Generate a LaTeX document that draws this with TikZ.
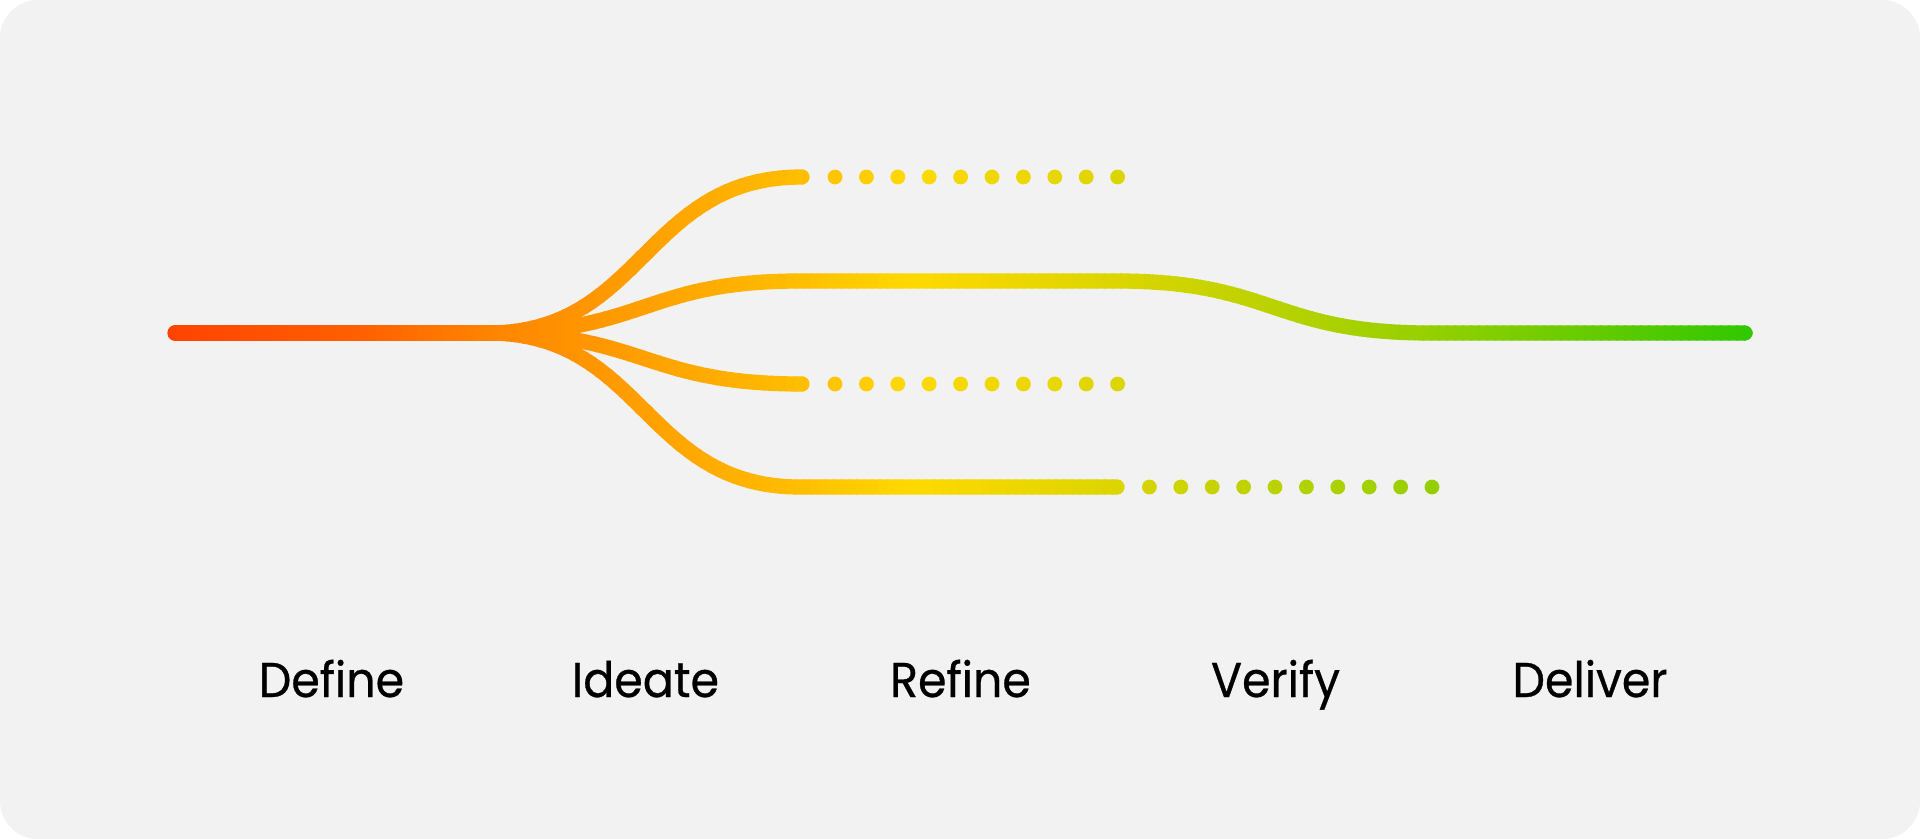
\documentclass[tikz,border=0pt]{standalone}
\usepackage{fontspec}
\setmainfont{Poppins}[FakeStretch=0.94, FakeBold=0.6]
\definecolor{bgc}{HTML}{F2F2F2}
\definecolor{g0}{HTML}{FF4200}
\definecolor{g1}{HTML}{FF6000}
\definecolor{g2}{HTML}{FF8400}
\definecolor{g3}{HTML}{FFAA00}
\definecolor{g4}{HTML}{FFC000}
\definecolor{g5}{HTML}{FFD900}
\definecolor{g6}{HTML}{DCD500}
\definecolor{g7}{HTML}{B8D200}
\definecolor{g8}{HTML}{95D000}
\definecolor{g9}{HTML}{62CB00}
\definecolor{g10}{HTML}{2EC800}
\tikzset{
  flowline/.style={line width=0.152cm, line cap=round, line join=round},
  stagelabel/.style={anchor=base, text=black, font=\fontsize{13.9}{16}\selectfont, inner sep=0pt},
}
\newcommand\gradstops{160/360/g0/g1, 360/490/g1/g2, 490/700/g2/g3, 700/810/g3/g4, 810/910/g4/g5, 910/1120/g5/g6, 1120/1280/g6/g7, 1280/1430/g7/g8, 1430/1600/g8/g9, 1600/1760/g9/g10}
\newcommand\flowdot[2]{% x, y
  \foreach \xa/\xb/\ca/\cb in \gradstops{
    \ifdim #1pt<\xa pt\else\ifdim #1pt<\xb pt
      \pgfmathsetmacro\p{100*((#1-\xa)/(\xb-\xa))}
      \colorlet{cur}{\cb!\p!\ca}
      \fill[cur] (#1,#2) circle (0.074cm);
    \fi\fi
  }%
}
\begin{document}
\begin{tikzpicture}[x=0.01cm, y=-0.01cm]
  \useasboundingbox (0,0) rectangle (1920,839);
  \fill[white] (0,0) rectangle (1920,839);
  \fill[bgc, rounded corners=0.38cm] (0,0) rectangle (1920,839);
  % named points of the flow
  \coordinate (m0) at (175,333);
  \coordinate (jn) at (488,333);
  \coordinate (c1) at (644,333);
  \coordinate (t1) at (644,177);
  \coordinate (te) at (802,177);
  \coordinate (u1) at (644,281);
  \coordinate (u2) at (800,281);
  \coordinate (u3) at (1117,281);
  \coordinate (u4) at (1273,281);
  \coordinate (r1) at (1273,333);
  \coordinate (r2) at (1430,333);
  \coordinate (re) at (1745,333);
  \coordinate (l1) at (644,384);
  \coordinate (le) at (802,384);
  \coordinate (b1) at (644,487);
  \coordinate (b2) at (800,487);
  \coordinate (be) at (1117,487);
  % gradient by vertical strips
  \foreach \xa/\xb/\ca/\cb in \gradstops{
    \pgfmathtruncatemacro\n{round((\xb-\xa)/8)}
    \foreach \k in {1,...,\n}{
      \pgfmathsetmacro\xl{\xa+(\k-1)*((\xb-\xa)/\n)}
      \pgfmathsetmacro\xr{\xa+\k*((\xb-\xa)/\n)+1.5}
      \pgfmathsetmacro\p{100*((\k-0.5)/\n)}
      \colorlet{cur}{\cb!\p!\ca}
      \begin{scope}[color=cur]
        \clip (\xl,150) rectangle (\xr,510);
        \ifdim\xl pt<500pt
          \draw[flowline] (m0) -- (c1);
        \fi
        \ifdim\xr pt>480pt
          \draw[flowline] (jn) .. controls (c1) and (u1) .. (u2) -- (u3) .. controls (u4) and (r1) .. (r2) -- (re);
          \ifdim\xl pt<815pt
            \draw[flowline] (jn) .. controls (c1) and (t1) .. (te);
            \draw[flowline] (jn) .. controls (c1) and (l1) .. (le);
          \fi
          \ifdim\xl pt<1125pt
            \draw[flowline] (jn) .. controls (c1) and (b1) .. (b2) -- (be);
          \fi
        \fi
      \end{scope}
    }
  }
  % dotted continuations
  \foreach \k in {0,...,9}{
    \pgfmathsetmacro\dxa{835+31.4*\k}
    \pgfmathsetmacro\dxb{1149.4+31.4*\k}
    \flowdot{\dxa}{177}
    \flowdot{\dxa}{384}
    \flowdot{\dxb}{487}
  }
  % stage labels
  \node[stagelabel] (define)  at (331.5,697) {Define};
  \node[stagelabel] (ideate)  at (645.5,697) {Ideate};
  \node[stagelabel] (refine)  at (960.5,697) {Refine};
  \node[stagelabel] (verify)  at (1275.5,697) {Verify};
  \node[stagelabel] (deliver) at (1590,697) {Deliver};
\end{tikzpicture}
\end{document}
